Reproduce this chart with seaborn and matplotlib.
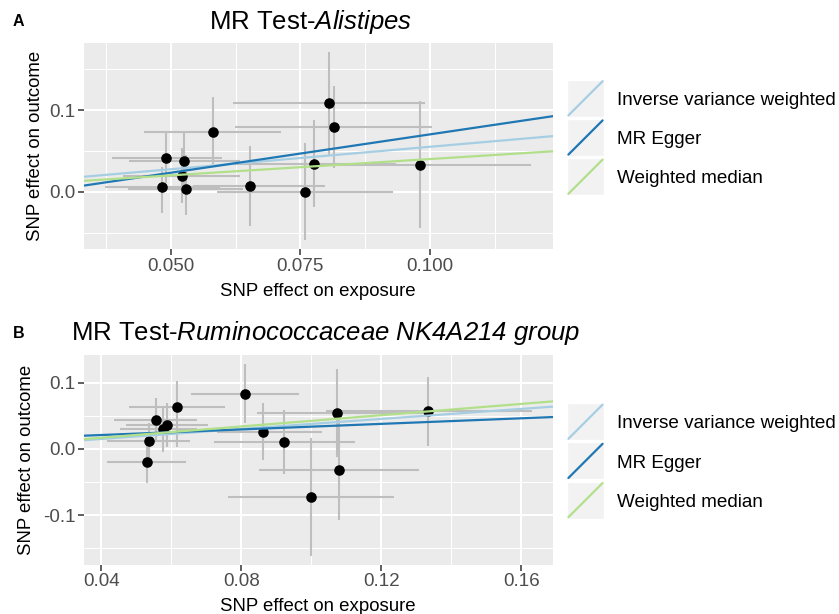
import numpy as np
import pandas as pd
import matplotlib
matplotlib.use("Agg")
import matplotlib.pyplot as plt
import seaborn as sns
from matplotlib.legend_handler import HandlerBase
from matplotlib.lines import Line2D
from matplotlib.patches import Rectangle

# ---------------- data ----------------
# Panel A: Alistipes
a_bx = [0.0484, 0.0491, 0.0526, 0.0522, 0.0530, 0.0581, 0.0653, 0.0759, 0.0777, 0.0805, 0.0814, 0.0981]
a_by = [0.0061, 0.0409, 0.0380, 0.0192, 0.0033, 0.0727, 0.0073, 0.0000, 0.0343, 0.1086, 0.0796, 0.0327]
a_xlo = [0.0374, 0.0387, 0.0419, 0.0409, 0.0418, 0.0448, 0.0543, 0.0589, 0.0620, 0.0621, 0.0624, 0.0767]
a_xhi = [0.0595, 0.0599, 0.0634, 0.0634, 0.0640, 0.0712, 0.0798, 0.0929, 0.0935, 0.0990, 0.1004, 0.1195]
a_ylo = [-0.0265, 0.0103, 0.0042, -0.0142, -0.0285, 0.0339, -0.0416, -0.0590, -0.0184, 0.0449, 0.0294, -0.0448]
a_yhi = [0.0306, 0.0715, 0.0715, 0.0530, 0.0450, 0.1155, 0.0559, 0.0600, 0.0878, 0.1706, 0.1297, 0.1110]

# Panel B: Ruminococcaceae NK4A214 group
b_bx = [0.0530, 0.0536, 0.0555, 0.0576, 0.0589, 0.0616, 0.0811, 0.0861, 0.0923, 0.0999, 0.1074, 0.1080, 0.1333]
b_by = [-0.0201, 0.0125, 0.0437, 0.0297, 0.0362, 0.0629, 0.0825, 0.0261, 0.0110, -0.0719, 0.0538, -0.0317, 0.0573]
b_xlo = [0.0416, 0.0416, 0.0435, 0.0452, 0.0471, 0.0480, 0.0655, 0.0731, 0.0721, 0.0763, 0.0844, 0.0852, 0.1042]
b_xhi = [0.0642, 0.0654, 0.0673, 0.0673, 0.0706, 0.0754, 0.0966, 0.1030, 0.1125, 0.1237, 0.1318, 0.1309, 0.1632]
b_ylo = [-0.0517, -0.0140, 0.0110, -0.0041, 0.0035, 0.0035, 0.0388, -0.0166, -0.0382, -0.1614, -0.0116, -0.1070, 0.0045]
b_yhi = [0.0060, 0.0388, 0.0765, 0.0638, 0.0690, 0.1025, 0.1280, 0.0689, 0.0588, 0.0161, 0.1202, 0.0538, 0.1090]

methods = ["Inverse variance weighted", "MR Egger", "Weighted median"]
method_colors = ["#A6CEE3", "#1F78B4", "#B2DF8A"]
a_slopes = [0.55, 0.94, 0.40]
a_intercepts = [0.0, -0.0238, 0.0]
b_slopes = [0.378, 0.21, 0.425]
b_intercepts = [0.0, 0.0127, 0.0]

a_xticks = [0.050, 0.075, 0.100]
a_xticklabels = ["0.050", "0.075", "0.100"]
a_yticks = [0.0, 0.1]
a_yticklabels = ["0.0", "0.1"]
b_xticks = [0.04, 0.08, 0.12, 0.16]
b_xticklabels = ["0.04", "0.08", "0.12", "0.16"]
b_yticks = [-0.1, 0.0, 0.1]
b_yticklabels = ["-0.1", "0.0", "0.1"]

title_a = r"MR Test-$\mathsf{Alistipes}$"
title_b = r"MR Test-$\mathsf{Ruminococcaceae\ NK4A214\ group}$"
xlab = "SNP effect on exposure"
ylab = "SNP effect on outcome"

# ---------------- style ----------------
sns.set_theme(style="darkgrid", rc={
    "axes.facecolor": "#EBEBEB",
    "grid.color": "white",
    "axes.edgecolor": "none",
})
plt.rcParams["font.family"] = ["Liberation Sans", "DejaVu Sans"]
plt.rcParams["text.color"] = "black"
plt.rcParams["axes.labelcolor"] = "black"
plt.rcParams["mathtext.fontset"] = "custom"
plt.rcParams["mathtext.rm"] = "Liberation Sans"
plt.rcParams["mathtext.it"] = "Liberation Sans:italic"
plt.rcParams["mathtext.sf"] = "Liberation Sans:italic"

W, H = 839, 614
fig = plt.figure(figsize=(W / 100, H / 100), dpi=100)

def px_axes(left, top, right, bottom):
    return fig.add_axes([left / W, 1 - bottom / H, (right - left) / W, (bottom - top) / H])

ERR = "#BEBEBE"
TICK_FS = 13.6
LAB_FS = 13.4

def draw_panel(ax, bx, by, xlo, xhi, ylo, yhi, slopes, intercepts,
               xlim, ylim, xticks, xticklabels, yticks, yticklabels, xminor, yminor):
    df = pd.DataFrame({"bx": bx, "by": by, "xlo": xlo, "xhi": xhi, "ylo": ylo, "yhi": yhi})
    ax.vlines(df["bx"], df["ylo"], df["yhi"], color=ERR, lw=1.5, zorder=2)
    ax.hlines(df["by"], df["xlo"], df["xhi"], color=ERR, lw=1.5, zorder=2)
    sns.scatterplot(data=df, x="bx", y="by", color="black", s=58, linewidth=0, ax=ax, zorder=3)
    for s, i, c, m in zip(slopes, intercepts, method_colors, methods):
        ax.axline((0, i), slope=s, color=c, lw=1.6, zorder=4, label=m)
    ax.set_xlim(*xlim)
    ax.set_ylim(*ylim)
    ax.set_xticks(xticks)
    ax.set_xticklabels(xticklabels)
    ax.set_yticks(yticks)
    ax.set_yticklabels(yticklabels)
    ax.set_xticks(xminor, minor=True)
    ax.set_yticks(yminor, minor=True)
    ax.grid(which="major", color="white", lw=1.5)
    ax.grid(which="minor", color="white", lw=0.75)
    ax.tick_params(which="major", length=4, width=1.1, color="#333333",
                   labelsize=TICK_FS, labelcolor="#4D4D4D", pad=2)
    ax.tick_params(which="minor", length=0)
    ax.tick_params(axis="both", which="both", bottom=True, left=True)
    for sp in ax.spines.values():
        sp.set_visible(False)
    ax.set_xlabel(xlab, fontsize=LAB_FS, color="black")
    ax.set_ylabel(ylab, fontsize=LAB_FS, color="black")

axA = px_axes(83.5, 42.7, 553, 249.3)
draw_panel(axA, a_bx, a_by, a_xlo, a_xhi, a_ylo, a_yhi, a_slopes, a_intercepts,
           (0.0332, 0.1237), (-0.0705, 0.1824),
           a_xticks, a_xticklabels, a_yticks, a_yticklabels,
           [0.0375, 0.0625, 0.0875, 0.1125], [-0.05, 0.05, 0.15])
axA.xaxis.set_label_coords(0.5, (249.3 - 283) / 206.6)
axA.yaxis.set_label_coords((44.2 - 83.5) / 469.5, 0.5)

axB = px_axes(83.5, 355, 553, 565)
draw_panel(axB, b_bx, b_by, b_xlo, b_xhi, b_ylo, b_yhi, b_slopes, b_intercepts,
           (0.0349, 0.1691), (-0.175, 0.1418),
           b_xticks, b_xticklabels, b_yticks, b_yticklabels,
           [0.06, 0.10, 0.14], [-0.15, -0.05, 0.05])
axB.xaxis.set_label_coords(0.5, (565 - 598) / 210)
axB.yaxis.set_label_coords((35.3 - 83.5) / 469.5, 0.5)

# titles and panel letters
fig.text(311 / W, 1 - 22 / H, title_a, fontsize=18.5, ha="center", va="center")
fig.text(326 / W, 1 - 333 / H, title_b, fontsize=18.5, ha="center", va="center")
fig.text(13 / W, 1 - 21 / H, "A", fontsize=11.5, fontweight="bold", ha="left", va="center")
fig.text(13 / W, 1 - 334 / H, "B", fontsize=11.5, fontweight="bold", ha="left", va="center")

# legends with ggplot-like abline keys
LEG_FS = 13.6
KEY_PT = 37 * 72 / 100.0
HH = 1.6
ROW_PT = 39.2 * 72 / 100.0
_desc = 0.35 * LEG_FS * (HH - 0.7)
_box = LEG_FS * HH - _desc

class AblineKey(HandlerBase):
    def create_artists(self, legend, orig_handle, xdescent, ydescent, width, height, fontsize, trans):
        cy = 0.36 * fontsize
        y0 = cy - KEY_PT / 2
        rect = Rectangle((-xdescent, y0), KEY_PT, KEY_PT, facecolor="#F2F2F2",
                         edgecolor="white", lw=1.0, transform=trans)
        line = Line2D([-xdescent + 1, -xdescent + KEY_PT - 1], [y0 + 1, y0 + KEY_PT - 1],
                      color=orig_handle.get_color(), lw=1.6, transform=trans)
        return [rect, line]

def add_legend(ax, first_text_center_px):
    handles, labels = ax.get_legend_handles_labels()
    top_px = first_text_center_px + 0.36 * LEG_FS * 100 / 72 - (_box - _desc) * 100 / 72
    leg = fig.legend(handles, labels, loc="upper left",
                     bbox_to_anchor=(567 / W, 1 - top_px / H), bbox_transform=fig.transFigure,
                     frameon=False, borderpad=0, borderaxespad=0, fontsize=LEG_FS,
                     handler_map={Line2D: AblineKey()},
                     handlelength=KEY_PT / LEG_FS, handleheight=HH,
                     labelspacing=(ROW_PT - _box) / LEG_FS,
                     handletextpad=13 * 0.72 / LEG_FS, labelcolor="black")
    return leg

add_legend(axA, 98.3)
add_legend(axB, 421.7)

fig.savefig("out.png", dpi=100)
